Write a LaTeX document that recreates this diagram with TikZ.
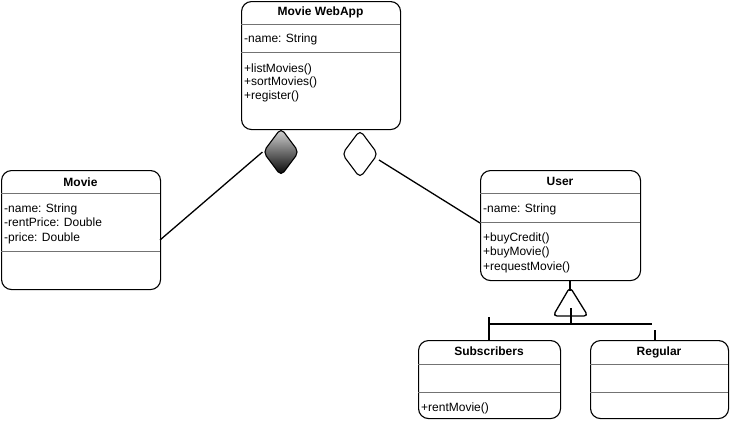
\documentclass[tikz,border=0pt]{standalone}
\usepackage{fontspec}
\setmainfont{Liberation Sans}
\usetikzlibrary{shapes.geometric}
\begin{document}
\begin{tikzpicture}[x=1pt,y=-1pt,
  cls/.style={draw,line width=1.1pt,rounded corners=10pt,inner sep=0pt,anchor=north west},
  sep/.style={draw=black!55,line width=0.6pt},
  txt/.style={anchor=base west,inner sep=0pt,font=\fontsize{12}{14}\selectfont},
  ttl/.style={anchor=base,inner sep=0pt,font=\fontsize{12}{14}\selectfont\bfseries},
  link/.style={draw,line width=1.3pt},
  dia/.style={diamond,draw,line width=1.1pt,minimum width=36pt,minimum height=48pt,inner sep=0pt,rounded corners=5pt}
]
\useasboundingbox (0,0) rectangle (731,421);

% Movie WebApp
\node[cls,minimum width=159pt,minimum height=128pt] (web) at (241,1) {};
\draw[sep] (241,24) -- (400,24);
\draw[sep] (241,52) -- (400,52);
\node[ttl] (webt) at (320.5,15) {Movie WebApp};
\node[txt] (web1) at (244,42) {-name: String};
\node[txt] (web2) at (244,72) {+listMovies()};
\node[txt] (web3) at (244,85.5) {+sortMovies()};
\node[txt] (web4) at (244,99) {+register()};

% Movie
\node[cls,minimum width=159pt,minimum height=119pt] (movie) at (1,170) {};
\draw[sep] (1,193) -- (160,193);
\draw[sep] (1,251) -- (160,251);
\node[ttl] (moviet) at (80.5,186) {Movie};
\node[txt] (movie1) at (4,212) {-name: String};
\node[txt] (movie2) at (4,226.5) {-rentPrice: Double};
\node[txt] (movie3) at (4,241) {-price: Double};

% User
\node[cls,minimum width=160pt,minimum height=110pt] (user) at (480,170) {};
\draw[sep] (480,193) -- (640,193);
\draw[sep] (480,222) -- (640,222);
\node[ttl] (usert) at (560,185) {User};
\node[txt] (user1) at (483,212) {-name: String};
\node[txt] (user2) at (483,241) {+buyCredit()};
\node[txt] (user3) at (483,255.5) {+buyMovie()};
\node[txt] (user4) at (483,270) {+requestMovie()};

% Subscribers
\node[cls,minimum width=142pt,minimum height=78pt] (sub) at (418,340) {};
\draw[sep] (418,364) -- (560,364);
\draw[sep] (418,392) -- (560,392);
\node[ttl] (subt) at (489,355) {Subscribers};
\node[txt] (sub1) at (421,411) {+rentMovie()};

% Regular
\node[cls,minimum width=138pt,minimum height=78pt] (reg) at (590,340) {};
\draw[sep] (590,364) -- (728,364);
\draw[sep] (590,392) -- (728,392);
\node[ttl] (regt) at (659,355) {Regular};

% composition (filled diamond)
\node[dia,shading=axis,top color=white!85!black,bottom color=black] (fd) at (281,152) {};
% aggregation (open diamond)
\node[dia,fill=white] (od) at (360,154) {};

\coordinate (mvR) at (160,240);
\coordinate (odR) at (379,160);
\coordinate (usL) at (480,223);
\draw[link] (fd.west) -- (mvR);
\draw[link] (odR) -- (usL);

% generalization
\coordinate (triA) at (570,287);
\coordinate (triL) at (553,316);
\coordinate (triR) at (588,316);
\coordinate (bar) at (571,324);
\coordinate (barL) at (489,324);
\coordinate (barR) at (652,324);
\coordinate (usB) at (570,280);
\coordinate (usBend) at (570,291);
\draw[link,rounded corners=4pt] (triA) -- (triR) -- (triL) -- cycle;
\draw[link] (usB) -- (usBend);
\draw[link] (571,308) -- (bar);
\draw[line width=2.2pt] (barL) -- (barR);
\draw[link] (489,317) -- (489,340.5);
\draw[link] (655,330) -- (655,340.5);
\end{tikzpicture}
\end{document}
